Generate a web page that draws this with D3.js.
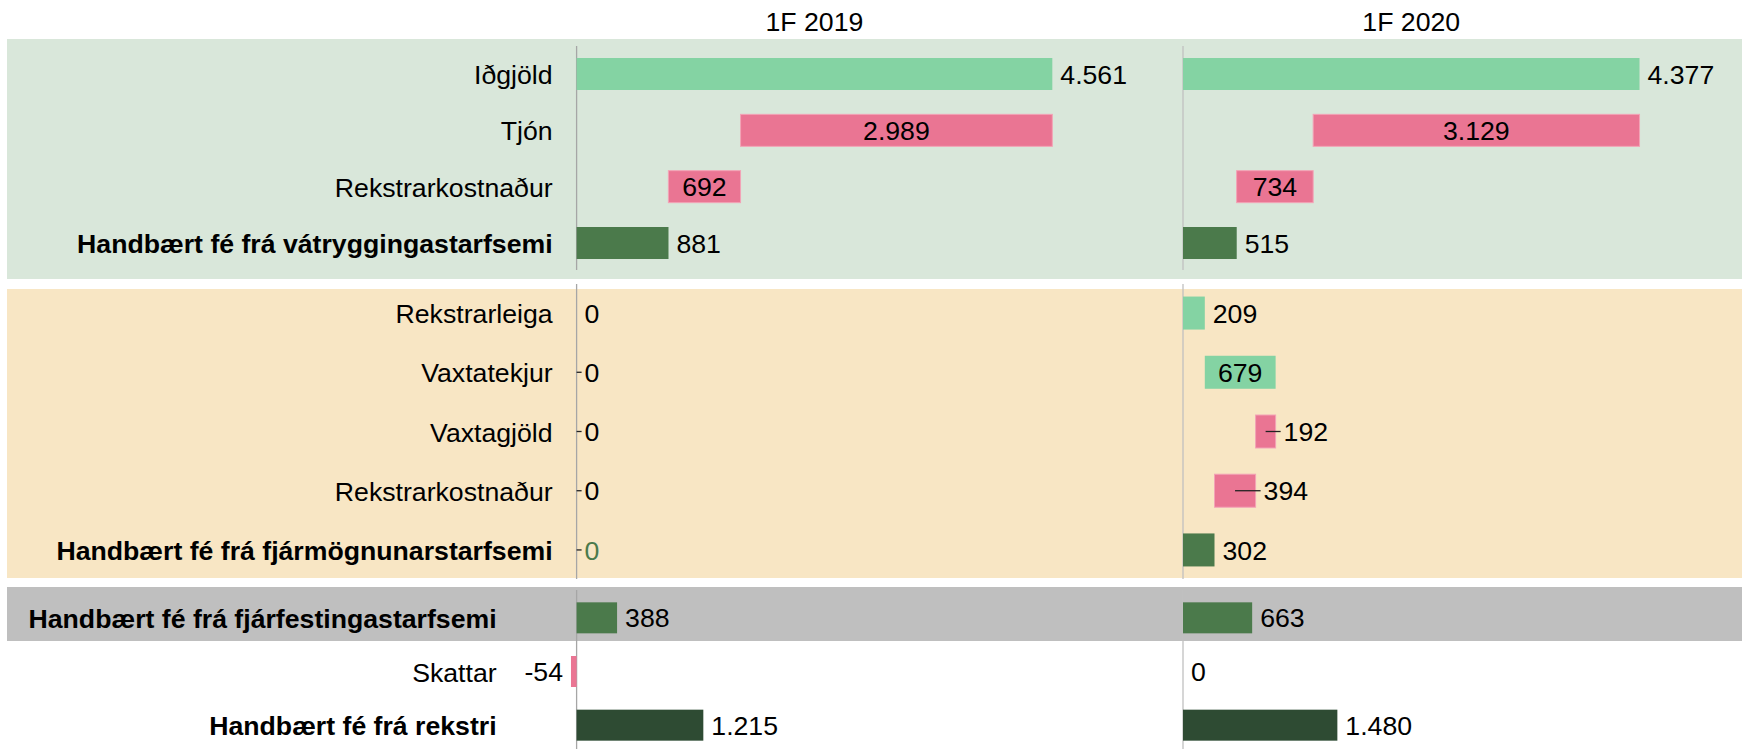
<!DOCTYPE html>
<html><head><meta charset="utf-8">
<script src="https://cdn.jsdelivr.net/npm/d3@7"></script>
<style>
html,body{margin:0;padding:0;background:#fff;}
svg text{font-family:"Liberation Sans",Arial,sans-serif;}
</style></head>
<body><svg id="c" width="1742" height="749"></svg>
<script>
// ---- data ----
const categories = ["Iðgjöld","Tjón","Rekstrarkostnaður","Handbært fé frá vátryggingastarfsemi",
  "Rekstrarleiga","Vaxtatekjur","Vaxtagjöld","Rekstrarkostnaður","Handbært fé frá fjármögnunarstarfsemi",
  "Handbært fé frá fjárfestingastarfsemi","Skattar","Handbært fé frá rekstri"];
const sectionOf = [0,0,0,0,1,1,1,1,1,2,2,2];
const rowType  = ["start","step","step","total","start","step","step","step","total","total","start","grand"];
const periods = ["1F 2019","1F 2020"];
const values2019 = [4561,-2989,-692,881, 0,0,0,0,0, 388,-54,1215];
const values2020 = [4377,-3129,-734,515, 209,679,-192,-394,302, 663,0,1480];
const seriesValues = [values2019, values2020];

// ---- layout ----
const W = 1742, H = 749;
const FS = 26.67;
const svg = d3.select("#c");
const panelAxisX = [576.6, 1183];
const axisColor = ["#a6a6a6", "#c0c0c0"];
const sections = [
  {range:[38,279], pad:0.639, barH:32, band:[39,279], bandColor:"#d9e7da", axisSeg:[46,270], labelGap:24},
  {range:[287,576], pad:0.44, barH:33, band:[289,578], bandColor:"#f8e6c4", axisSeg:[284,579], labelGap:24},
  {range:[591,752], pad:0.5,  barH:31, band:null, bandColor:null, axisSeg:[590,749], labelGap:80}
];
const colors = {up:"#84d3a3", down:"#ea7593", total:"#4b7a4b", grand:"#2e4b33"};
const fmt = d3.formatLocale({decimal:",", thousands:".", grouping:[3], currency:["",""], minus:"-"}).format(",d");

const x = d3.scaleLinear().domain([0,5000]).range([0,521.5]);

// y scales per section
const yScales = sections.map((s,si)=>{
  const idx = d3.range(categories.length).filter(i=>sectionOf[i]===si);
  return d3.scalePoint().domain(idx).range(s.range).padding(s.pad);
});
const yc = i => yScales[sectionOf[i]](i);

// backgrounds
sections.forEach(s=>{
  if(s.band) svg.append("rect").attr("x",7).attr("y",s.band[0]).attr("width",W-7)
    .attr("height",s.band[1]-s.band[0]).attr("fill",s.bandColor);
});
// grey band for investing row
{
  const sc = yScales[2]; const i = 9;
  svg.append("rect").attr("x",7).attr("y",sc(i)-sc.step()/2+(-4)).attr("width",W-7)
    .attr("height",54).attr("fill","#bfbfbf");
}

// axis lines
panelAxisX.forEach((ax,p)=>{
  sections.forEach(s=>{
    svg.append("line").attr("x1",ax).attr("x2",ax).attr("y1",s.axisSeg[0]).attr("y2",s.axisSeg[1])
      .attr("stroke",axisColor[p]).attr("stroke-width",1.3);
  });
});

// category labels
categories.forEach((c,i)=>{
  const s = sections[sectionOf[i]];
  const bold = rowType[i]==="total" || rowType[i]==="grand";
  svg.append("text").attr("x",panelAxisX[0]-s.labelGap).attr("y",yc(i)).attr("dy","0.38em")
    .attr("text-anchor","end").attr("font-size",FS).attr("font-weight",bold?"bold":"normal")
    .attr("fill","#000").text(c);
});

// bars per panel
seriesValues.forEach((vals,p)=>{
  const ax = panelAxisX[p];
  const g = svg.append("g").attr("transform",`translate(${ax},0)`);
  let maxCum = 0, cum = 0;
  const segs = vals.map((v,i)=>{
    const t = rowType[i];
    let a,b;
    if(t==="start"){ a=0; b=v; cum=v; }
    else if(t==="step"){ a=cum; b=cum+v; cum=b; }
    else { a=0; b=v; cum=v; }
    maxCum = Math.max(maxCum,a,b);
    return {i,v,t,a,b};
  });
  // header centred over the widest bar extent
  svg.append("text").attr("x",ax + x(maxCum)/2).attr("y",31).attr("text-anchor","middle")
    .attr("font-size",FS).attr("fill","#000").text(periods[p]);

  segs.forEach(d=>{
    const s = sections[sectionOf[d.i]];
    const lo = Math.min(d.a,d.b), hi = Math.max(d.a,d.b);
    const color = d.t==="grand" ? colors.grand : d.t==="total" ? colors.total : (d.v>=0?colors.up:colors.down);
    const cy = yc(d.i);
    if(d.v!==0){
      g.append("rect").attr("x",x(lo)).attr("y",cy-s.barH/2).attr("width",x(hi)-x(lo))
        .attr("height",s.barH).attr("fill",color)
        .attr("stroke", d.v<0 && d.t==="step" ? "#f3a3b6" : "none").attr("stroke-width",1);
    }
    const shown = d.t==="step" ? Math.abs(d.v) : d.v;
    const txt = g.append("text").attr("y",cy).attr("dy","0.36em").attr("font-size",FS)
      .attr("fill", (d.v===0 && d.t==="total") ? colors.total : "#000").text(fmt(shown));
    const tw = txt.node().getComputedTextLength();
    const bw = x(hi)-x(lo);
    if(d.t==="step" && bw >= tw + 12){
      txt.attr("x",(x(lo)+x(hi))/2).attr("text-anchor","middle");
    } else if(d.v<0 && d.t!=="step"){
      txt.attr("x",x(lo)-8).attr("text-anchor","end");
    } else {
      const lx = x(hi)+8;
      txt.attr("x",lx).attr("text-anchor","start");
      const leader = (d.t==="step") || (d.t==="total" && d.v===0);
      if(leader){
        g.append("line").attr("x1",(x(lo)+x(hi))/2).attr("x2",lx-3).attr("y1",cy).attr("y2",cy)
          .attr("stroke","#222").attr("stroke-width",1.3);
        txt.raise();
      }
    }
  });
});
</script></body></html>
